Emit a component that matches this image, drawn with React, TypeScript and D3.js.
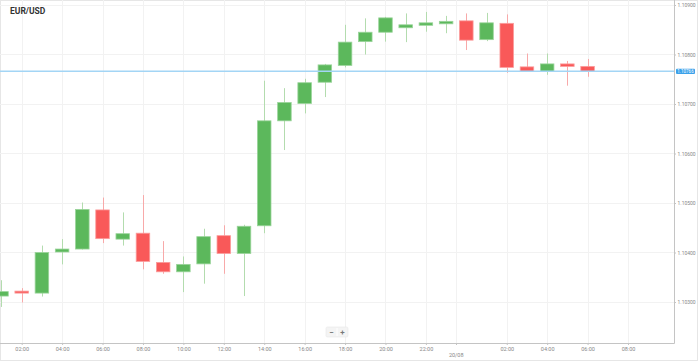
import * as d3 from "d3";
import { useEffect, useRef } from "react";

// hourly candles, hour counted from 19/08 00:00
const hours = [1, 2, 3, 4, 5, 6, 7, 8, 9, 10, 11, 12, 13, 14, 15, 16, 17, 18, 19, 20, 21, 22, 23, 24, 25, 26, 27, 28, 29, 30];
const opens = [1.10312, 1.10322, 1.10318, 1.10401, 1.10407, 1.10486, 1.10427, 1.10439, 1.1038, 1.10361, 1.10377, 1.10434, 1.10398, 1.10454, 1.10666, 1.10701, 1.10744, 1.10778, 1.10826, 1.10845, 1.10854, 1.10859, 1.10862, 1.10868, 1.1083, 1.10863, 1.10775, 1.10766, 1.10781, 1.10776];
const highs = [1.10344, 1.10328, 1.10414, 1.10427, 1.10501, 1.10511, 1.10481, 1.10516, 1.10423, 1.10392, 1.10448, 1.10455, 1.10456, 1.10747, 1.10732, 1.10751, 1.10781, 1.1086, 1.10873, 1.10876, 1.10883, 1.10886, 1.10878, 1.10883, 1.10884, 1.10881, 1.10802, 1.10802, 1.10787, 1.10791];
const lows = [1.1029, 1.10299, 1.10311, 1.10376, 1.10406, 1.10419, 1.10414, 1.10366, 1.10357, 1.1032, 1.10337, 1.10357, 1.10312, 1.10439, 1.10607, 1.10681, 1.10714, 1.10774, 1.108, 1.10826, 1.10825, 1.10846, 1.10843, 1.10809, 1.10827, 1.10763, 1.10765, 1.10759, 1.10737, 1.10755];
const closes = [1.10321, 1.10319, 1.104, 1.10407, 1.10487, 1.10428, 1.10438, 1.10382, 1.10361, 1.10376, 1.10432, 1.10398, 1.10453, 1.10666, 1.10703, 1.10743, 1.10779, 1.10825, 1.10845, 1.10874, 1.1086, 1.10864, 1.10867, 1.10829, 1.10864, 1.10774, 1.10766, 1.10781, 1.10776, 1.10766];

const priceTicks = [1.103, 1.104, 1.105, 1.106, 1.107, 1.108, 1.109];
const timeTicks = [2, 4, 6, 8, 10, 12, 14, 16, 18, 20, 22, 26, 28, 30, 32];
const dateTick = { hour: 23.5, label: "20/08" };
const lastPrice = 1.10766;

const W = 699;
const H = 362;
const plotRight = 674;
const plotBottom = 343;

const App = () => {
  const svgRef = useRef<SVGSVGElement>(null);

  useEffect(() => {
    const svg = d3.select(svgRef.current);
    svg.selectAll("*").remove();

    const x = d3.scaleLinear().domain([2, 32]).range([21.7, 628]);
    const y = d3.scaleLinear().domain([1.103, 1.109]).range([302, 5]);
    const bw = (x(1) - x(0)) * 0.67;

    // outer frame
    svg
      .append("rect")
      .attr("x", 0.5)
      .attr("y", 0.5)
      .attr("width", W - 2)
      .attr("height", H - 2)
      .attr("fill", "#fff")
      .attr("stroke", "#e6e6e6");

    svg
      .append("defs")
      .append("clipPath")
      .attr("id", "plot-clip")
      .append("rect")
      .attr("x", 0)
      .attr("y", 0)
      .attr("width", plotRight)
      .attr("height", plotBottom);

    // grid
    const grid = svg.append("g");
    grid
      .selectAll(".hg")
      .data(priceTicks)
      .enter()
      .append("line")
      .attr("x1", 0)
      .attr("x2", plotRight)
      .attr("y1", (d) => Math.round(y(d)) + 0.5)
      .attr("y2", (d) => Math.round(y(d)) + 0.5)
      .attr("stroke", "#f2f2f2");
    grid
      .selectAll(".vg")
      .data([...timeTicks, dateTick.hour])
      .enter()
      .append("line")
      .attr("x1", (d) => Math.round(x(d)) + 0.5)
      .attr("x2", (d) => Math.round(x(d)) + 0.5)
      .attr("y1", 0)
      .attr("y2", plotBottom)
      .attr("stroke", "#f2f2f2");

    // plot frame (right + bottom)
    svg
      .append("path")
      .attr("d", `M${plotRight + 0.5},0V${plotBottom + 0.5}H0`)
      .attr("fill", "none")
      .attr("stroke", "#c4c4c4");

    // title
    svg
      .append("text")
      .attr("x", 10)
      .attr("y", 14)
      .style("font-family", "Roboto, sans-serif")
      .style("font-weight", "bold")
      .style("font-size", "8.5px")
      .style("fill", "#333")
      .text("EUR/USD");

    // candles
    const candles = hours.map((h, i) => ({
      h,
      o: opens[i],
      hi: highs[i],
      lo: lows[i],
      c: closes[i],
    }));
    const g = svg.append("g").attr("clip-path", "url(#plot-clip)");
    const cg = g
      .selectAll(".candle")
      .data(candles)
      .enter()
      .append("g");
    cg.append("line")
      .attr("x1", (d) => Math.round(x(d.h)) + 0.5)
      .attr("x2", (d) => Math.round(x(d.h)) + 0.5)
      .attr("y1", (d) => y(d.hi))
      .attr("y2", (d) => y(d.lo))
      .attr("stroke", (d) => (d.c >= d.o ? "#b3dcae" : "#f8a9a9"))
      .attr("stroke-width", 1);
    cg.append("rect")
      .attr("x", (d) => x(d.h) - bw / 2)
      .attr("width", bw)
      .attr("y", (d) => y(Math.max(d.o, d.c)))
      .attr("height", (d) => Math.max(2, Math.abs(y(d.o) - y(d.c))))
      .attr("fill", (d) => (d.c >= d.o ? "#5cb85c" : "#f95959"))
      .attr("stroke", (d) => (d.c >= d.o ? "#9ad49a" : "#fb9c9c"))
      .attr("stroke-width", 0.8);

    // current price line
    svg
      .append("line")
      .attr("x1", 0)
      .attr("x2", plotRight)
      .attr("y1", y(lastPrice))
      .attr("y2", y(lastPrice))
      .attr("stroke", "#a3d5f5")
      .attr("stroke-width", 1.5);

    // y axis
    const yAxis = svg
      .append("g")
      .attr("transform", `translate(${plotRight},0)`)
      .call(
        d3
          .axisRight(y)
          .tickValues(priceTicks)
          .tickSize(2)
          .tickPadding(1.5)
          .tickFormat((d) => d3.format(".5f")(d as number))
      );
    yAxis.select(".domain").remove();
    yAxis.selectAll("line").attr("stroke", "#c4c4c4");
    yAxis
      .selectAll("text")
      .style("font-family", "Roboto, sans-serif")
      .style("font-size", "5px")
      .style("fill", "#888");

    // last price label
    svg
      .append("rect")
      .attr("x", plotRight + 2)
      .attr("y", y(lastPrice) - 2.6)
      .attr("width", 19)
      .attr("height", 5.2)
      .attr("rx", 1)
      .attr("fill", "#3ba1ea");
    svg
      .append("text")
      .attr("x", plotRight + 11.5)
      .attr("y", y(lastPrice))
      .attr("dy", "0.35em")
      .attr("text-anchor", "middle")
      .style("font-family", "Roboto, sans-serif")
      .style("font-size", "4.5px")
      .style("fill", "#fff")
      .text(d3.format(".5f")(lastPrice));

    // x axis
    const xAxis = svg
      .append("g")
      .attr("transform", `translate(0,${plotBottom})`)
      .call(
        d3
          .axisBottom(x)
          .tickValues(timeTicks)
          .tickSize(2)
          .tickPadding(2)
          .tickFormat((d) => {
            const hh = (d as number) % 24;
            return `${hh < 10 ? "0" : ""}${hh}:00`;
          })
      );
    xAxis.select(".domain").remove();
    xAxis.selectAll("line").attr("stroke", "#c4c4c4");
    xAxis
      .selectAll("text")
      .style("font-family", "Roboto, sans-serif")
      .style("font-size", "5.5px")
      .style("fill", "#888");

    svg
      .append("line")
      .attr("x1", Math.round(x(dateTick.hour)) + 0.5)
      .attr("x2", Math.round(x(dateTick.hour)) + 0.5)
      .attr("y1", plotBottom)
      .attr("y2", plotBottom + 2)
      .attr("stroke", "#c4c4c4");
    svg
      .append("text")
      .attr("x", x(dateTick.hour))
      .attr("y", 357)
      .attr("text-anchor", "middle")
      .style("font-family", "Roboto, sans-serif")
      .style("font-size", "5.5px")
      .style("fill", "#888")
      .text(dateTick.label);

    // zoom buttons
    const zb = svg.append("g").attr("transform", "translate(326,327)");
    zb.append("rect")
      .attr("width", 22)
      .attr("height", 10)
      .attr("rx", 1.5)
      .attr("fill", "#f4f4f4")
      .attr("stroke", "#e8e8e8")
      .attr("stroke-width", 0.6);
    zb.append("line")
      .attr("x1", 11)
      .attr("x2", 11)
      .attr("y1", 1)
      .attr("y2", 9)
      .attr("stroke", "#fff");
    zb.append("text")
      .attr("x", 5.5)
      .attr("y", 5.3)
      .attr("dy", "0.35em")
      .attr("text-anchor", "middle")
      .style("font-family", "Roboto, sans-serif")
      .style("font-weight", "bold")
      .style("font-size", "8px")
      .style("fill", "#777")
      .text("−");
    zb.append("text")
      .attr("x", 16.5)
      .attr("y", 5.3)
      .attr("dy", "0.35em")
      .attr("text-anchor", "middle")
      .style("font-family", "Roboto, sans-serif")
      .style("font-weight", "bold")
      .style("font-size", "8px")
      .style("fill", "#777")
      .text("+");
  }, []);

  return (
    <>
      <style>{"body{margin:0}"}</style>
      <svg ref={svgRef} width={W} height={H} style={{ display: "block" }}></svg>
    </>
  );
};

export default App;
